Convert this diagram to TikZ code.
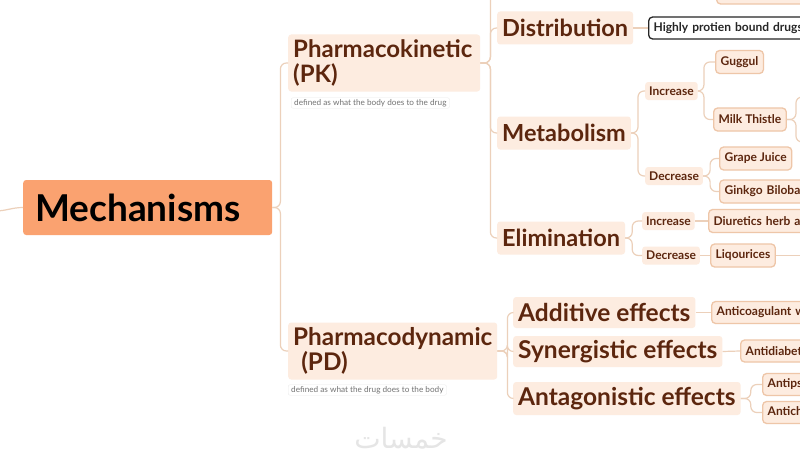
\documentclass[tikz,border=0pt]{standalone}
\usepackage{fontspec}
\setmainfont{Lato}
\newfontfamily\arabicfont[Script=Arabic]{DejaVu Sans}
\TeXXeTstate=1
\usetikzlibrary{positioning}
\definecolor{mechfill}{RGB}{250,162,112}
\definecolor{peach}{RGB}{253,236,224}
\definecolor{brownink}{RGB}{92,38,14}
\definecolor{linktan}{RGB}{236,208,186}
\definecolor{leafedge}{RGB}{238,198,168}

\begin{document}
\begin{tikzpicture}[x=1pt,y=-1pt,
  link/.style={draw=linktan,line width=1.2pt,rounded corners=6pt},
  topic/.style={fill=peach,text=brownink,anchor=west,rounded corners=3pt,inner xsep=5pt,inner ysep=0pt,align=left,font=\fontsize{23.5}{25}\selectfont\bfseries},
  bigtopic/.style={topic,font=\fontsize{24.5}{25}\selectfont\bfseries},
  sub/.style={fill=peach,text=brownink,anchor=west,rounded corners=3pt,inner xsep=4pt,inner ysep=0pt,minimum height=18pt,font=\fontsize{12}{14}\selectfont\bfseries},
  leaf/.style={sub,draw=leafedge,line width=1.3pt,rounded corners=4pt,minimum height=23pt,inner xsep=5pt},
  clipleaf/.style={leaf,text width=#1,align=left},
  note/.style={draw=black!8,rounded corners=2pt,anchor=west,inner xsep=3pt,inner ysep=1.5pt,text=black!55,font=\fontsize{8.2}{9}\selectfont}]
  \useasboundingbox (0,0) rectangle (800,460);
  \clip (0,0) rectangle (800,460);
  \fill[white] (0,0) rectangle (800,460);

  %root
  \node[fill=mechfill,anchor=west,rounded corners=3pt,minimum width=249pt,minimum height=55pt,text width=225pt,inner xsep=12pt,align=left,font=\fontsize{37}{40}\selectfont\bfseries] (mech) at (23,207.5) {Mechanisms};
  \coordinate (in) at (-5,211);
  \draw[link] (in) to[out=0,in=180] (mech.west);

  %pharmacokinetic
  \node[topic,font=\fontsize{24}{25}\selectfont\bfseries,minimum width=192pt,minimum height=57pt,text width=182pt] (pk) at (288,63) {Pharmacokinetic\\(PK)};
  \node[note] (pknote) at (291,103) {defined as what the body does to the drug};
  \draw[link] (mech.east) -- ++(8,0) |- (pk.west);
  %pharmacodynamic
  \node[topic,font=\fontsize{24.3}{25}\selectfont\bfseries,minimum width=209pt,minimum height=57pt,text width=199pt] (pd) at (288,351) {Pharmacodynamic\\\ (PD)};
  \node[note] (pdnote) at (288,390) {defined as what the drug does to the body};
  \draw[link] (mech.east) -- ++(8,0) |- (pd.west);

  %pk branches
  \node[topic,minimum height=33pt] (dist) at (497,28) {Distribution};
  \node[topic,minimum height=33pt] (met) at (497,133) {Metabolism};
  \node[topic,minimum height=33pt] (elim) at (497,238) {Elimination};
  \coordinate (absb) at (520,-40);
  \foreach \n in {absb,dist,met,elim}
    \draw[link] (pk.east) -- ++(10,0) |- (\n.west);

  %distribution
  \node[clipleaf=170pt,draw=black!85,fill=white,text=black!85,minimum height=22pt] (hpb) at (648,28) {Highly protien bound drugs};
  \draw[link] (dist.east) -- (hpb.west);
  \node[leaf,minimum width=100pt,minimum height=24pt] (topleaf) at (716,-8) {};

  %metabolism
  \node[sub] (minc) at (645,91) {Increase};
  \node[sub] (mdec) at (645,176) {Decrease};
  \draw[link] (met.east) -- ++(7,0) |- (minc.west);
  \draw[link] (met.east) -- ++(7,0) |- (mdec.west);
  \node[leaf] (gug) at (715,62) {Guggul};
  \node[leaf] (milk) at (713,119.5) {Milk Thistle};
  \draw[link] (minc.east) -- ++(6,0) |- (gug.west);
  \draw[link] (minc.east) -- ++(6,0) |- (milk.west);
  \coordinate (mt1) at (815,97);
  \coordinate (mt2) at (815,142);
  \draw[link] (milk.east) -- ++(9,0) |- (mt1);
  \draw[link] (milk.east) -- ++(9,0) |- (mt2);
  \node[leaf] (grape) at (719,158.5) {Grape Juice};
  \node[clipleaf=100pt] (ginkgo) at (719,191.5) {Ginkgo Biloba};
  \draw[link] (mdec.east) -- ++(7,0) |- (grape.west);
  \draw[link] (mdec.east) -- ++(7,0) |- (ginkgo.west);

  %elimination
  \node[sub] (einc) at (642,221) {Increase};
  \node[sub] (edec) at (642,255.5) {Decrease};
  \draw[link] (elim.east) -- ++(7,0) |- (einc.west);
  \draw[link] (elim.east) -- ++(7,0) |- (edec.west);
  \node[clipleaf=120pt] (diur) at (708,221) {Diuretics herb and};
  \draw[link] (einc.east) -- (diur.west);
  \node[leaf] (liq) at (710,255.5) {Liqourices};
  \coordinate (lq) at (815,255.5);
  \draw[link] (edec.east) -- (liq.west);
  \draw[link] (liq.east) -- (lq);

  %pd branches
  \node[bigtopic,minimum height=31pt] (add) at (513,312.5) {Additive effects};
  \node[bigtopic,minimum height=31pt] (syn) at (513,351.5) {Synergistic effects};
  \node[bigtopic,minimum height=33pt] (ant) at (513,398.5) {Antagonistic effects};
  \foreach \n in {add,syn,ant}
    \draw[link] (pd.east) -- ++(10,0) |- (\n.west);
  \node[clipleaf=130pt,minimum height=22pt] (anticoag) at (711,312.5) {Anticoagulant with};
  \draw[link] (add.east) -- (anticoag.west);
  \node[clipleaf=100pt,minimum height=22pt] (antidiab) at (740,351) {Antidiabetic};
  \draw[link] (syn.east) -- (antidiab.west);
  \node[clipleaf=100pt,minimum height=22pt] (antips) at (762,384.5) {Antipsychotic};
  \node[clipleaf=100pt,minimum height=22pt] (antich) at (762,412.5) {Anticholinergic};
  \draw[link] (ant.east) -- ++(10,0) |- (antips.west);
  \draw[link] (ant.east) -- ++(10,0) |- (antich.west);

  %watermark
  \node[text=black!10,font=\fontsize{28}{30}\selectfont\arabicfont] (mark) at (401,438) {\beginR خمسات\endR};
\end{tikzpicture}
\end{document}
